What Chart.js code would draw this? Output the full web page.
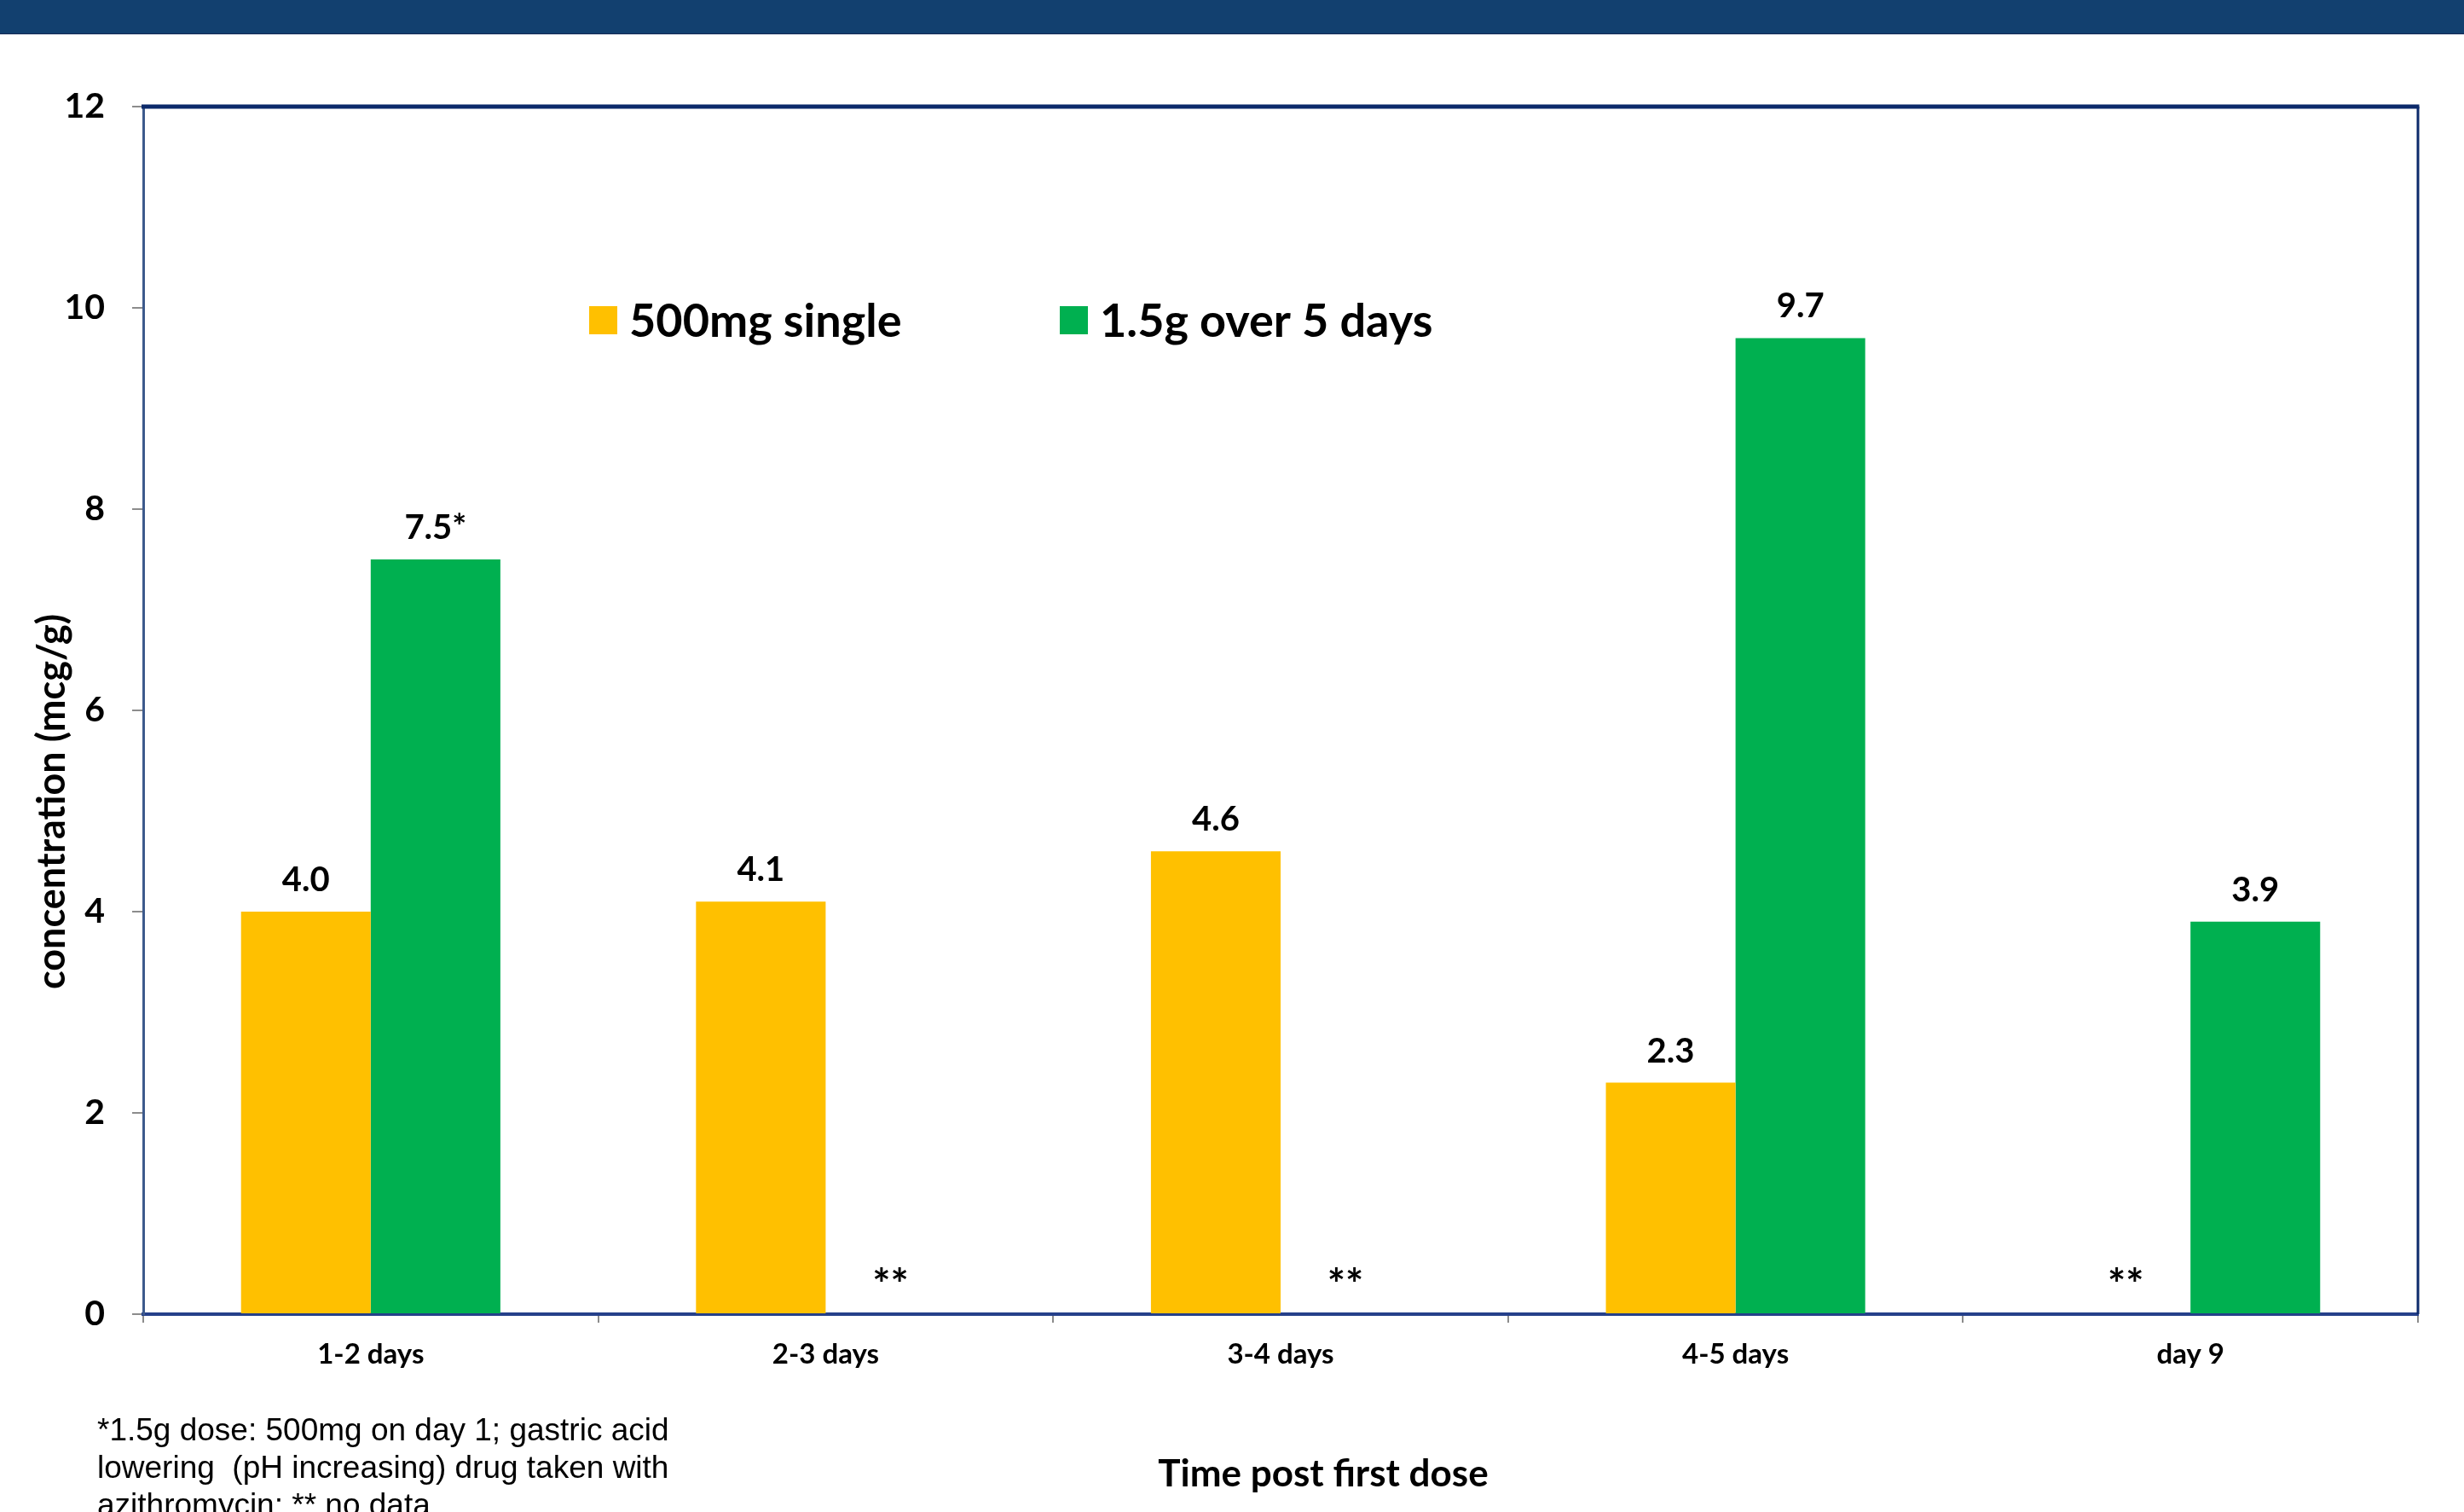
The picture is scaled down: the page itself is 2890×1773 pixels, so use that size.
<!DOCTYPE html>
<html>
<head>
<meta charset="utf-8">
<script src="https://cdn.jsdelivr.net/npm/chart.js@4.4.1/dist/chart.umd.min.js"></script>
<style>
  html, body { margin: 0; padding: 0; background: #ffffff; width: 2890px; height: 1773px; overflow: hidden; }
  #band { position: absolute; left: 0; top: 0; width: 2890px; height: 39px; background: #12406f;
          border-bottom: 1px solid #0a2452; box-shadow: 0 1px 0 #c9cfdb; }
  #wrap { position: absolute; left: 0; top: 0; width: 2890px; height: 1773px; }
  #note { position: absolute; left: 114px; top: 1655px; font: 37px/44px "Liberation Sans", Arial, sans-serif;
          color: #000; white-space: pre; }
</style>
</head>
<body>
<div id="wrap"><canvas id="chart" width="2890" height="1773"></canvas></div>
<div id="band"></div>
<div id="note">*1.5g dose: 500mg on day 1; gastric acid
lowering  (pH increasing) drug taken with
azithromycin; ** no data</div>
<script>
// Azithromycin tissue concentration by time after the first dose
const categories = ['1-2 days', '2-3 days', '3-4 days', '4-5 days', 'day 9'];
const seriesNames = ['500mg single', '1.5g over 5 days'];
const singleDose = [4.0, 4.1, 4.6, 2.3, null];
const fiveDayDose = [7.5, null, null, 9.7, 3.9];
const singleNotes = ['', '', '', '', ''];
const fiveDayNotes = ['*', '', '', '', ''];
const yTicks = [0, 2, 4, 6, 8, 10, 12];
const noDataMark = '**';
const yTitle = 'concentration (mcg/g)';
const xTitle = 'Time post first dose';

const FONT = 'Lato, "Open Sans", sans-serif';
const YELLOW = '#ffc000';
const GREEN = '#00b050';

// value labels above bars, "**" where a slot has no data
const valueLabels = {
  id: 'valueLabels',
  afterDatasetsDraw(chart) {
    const ctx = chart.ctx;
    const y0 = chart.scales.y.getPixelForValue(0);
    ctx.save();
    ctx.fillStyle = '#000';
    ctx.textAlign = 'center';
    ctx.textBaseline = 'middle';
    chart.data.datasets.forEach((ds, i) => {
      const meta = chart.getDatasetMeta(i);
      meta.data.forEach((bar, j) => {
        const v = ds.data[j];
        if (v === null || v === undefined) {
          ctx.font = 'bold 50px ' + FONT;
          ctx.fillText(noDataMark, bar.x, y0 - 33);
        } else {
          ctx.font = 'bold 40px ' + FONT;
          ctx.fillText(v.toFixed(1) + ds.notes[j], bar.x, bar.y - 37);
        }
      });
    });
    ctx.restore();
  }
};

// plot frame (top and right edges), legend inside the plot, axis titles
const decorations = {
  id: 'decorations',
  afterDraw(chart) {
    const ctx = chart.ctx;
    const a = chart.chartArea;
    ctx.save();
    ctx.strokeStyle = '#0c2a6b';
    ctx.lineWidth = 5;
    ctx.beginPath();
    ctx.moveTo(a.left - 2, a.top);
    ctx.lineTo(a.right + 1.5, a.top);
    ctx.stroke();
    ctx.lineWidth = 3;
    ctx.beginPath();
    ctx.moveTo(a.right, a.top);
    ctx.lineTo(a.right, a.bottom);
    ctx.stroke();

    // legend
    const entries = [{ x: 691 }, { x: 1243 }];
    ctx.font = 'bold 54px ' + FONT;
    ctx.textBaseline = 'middle';
    ctx.textAlign = 'left';
    chart.data.datasets.forEach((ds, i) => {
      const ex = entries[i].x;
      ctx.fillStyle = ds.backgroundColor;
      ctx.fillRect(ex, 359, 33, 33);
      ctx.fillStyle = '#000';
      ctx.fillText(ds.label, ex + 47, 378);
    });

    // axis titles
    ctx.fillStyle = '#000';
    ctx.textAlign = 'center';
    ctx.font = 'bold 44px ' + FONT;
    ctx.fillText(xTitle, 1552, 1729);
    ctx.save();
    ctx.translate(61, 940);
    ctx.rotate(-Math.PI / 2);
    ctx.font = 'bold 45px ' + FONT;
    ctx.fillText(yTitle, 0, 0);
    ctx.restore();
    ctx.restore();
  }
};

new Chart(document.getElementById('chart'), {
  type: 'bar',
  data: {
    labels: categories,
    datasets: [
      { label: seriesNames[0], data: singleDose, notes: singleNotes, backgroundColor: YELLOW, borderWidth: 0 },
      { label: seriesNames[1], data: fiveDayDose, notes: fiveDayNotes, backgroundColor: GREEN, borderWidth: 0 }
    ]
  },
  options: {
    responsive: false,
    animation: false,
    devicePixelRatio: 1,
    layout: { padding: { left: 0, top: 125, right: 54, bottom: 0 } },
    datasets: { bar: { categoryPercentage: 0.57, barPercentage: 1.0 } },
    plugins: { legend: { display: false }, tooltip: { enabled: false } },
    scales: {
      x: {
        afterFit(scale) { scale.height = 232; },
        grid: { offset: true, drawOnChartArea: false, drawTicks: true, tickLength: 10, color: '#8c8c8c', lineWidth: 2 },
        border: { display: true, color: '#25408a', width: 4 },
        ticks: { color: '#000', font: { family: FONT, size: 33, weight: 'bold' }, padding: 18, maxRotation: 0 }
      },
      y: {
        min: 0,
        max: 12,
        afterFit(scale) { scale.width = 168; },
        afterBuildTicks(scale) { scale.ticks = yTicks.map(v => ({ value: v })); },
        grid: { drawOnChartArea: false, drawTicks: true, tickLength: 13, color: '#8c8c8c', lineWidth: 2 },
        border: { display: true, color: '#3d5a8c', width: 3 },
        ticks: { color: '#000', font: { family: FONT, size: 41, weight: 'bold' }, padding: 32 }
      }
    }
  },
  plugins: [valueLabels, decorations]
});
</script>
</body>
</html>
